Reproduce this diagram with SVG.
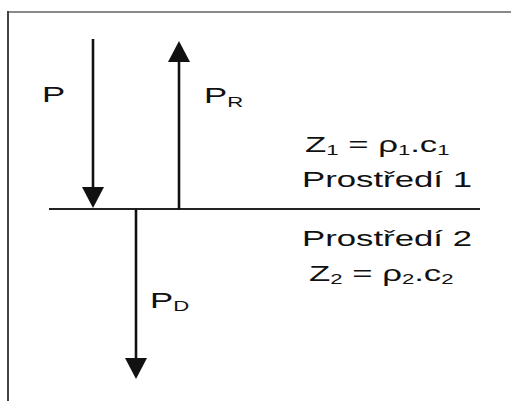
<svg xmlns="http://www.w3.org/2000/svg" width="511" height="401" viewBox="0 0 511 401">
  <style>
    .lbl { font-family: "Liberation Sans", Arial, sans-serif; font-size: 22px; fill: #111; }
    .sub { font-size: 14px; }
    .arrow { stroke: #111; stroke-width: 2.6; fill: none; marker-end: url(#head); }
    .iface { stroke: #222; stroke-width: 2.2; }
  </style>
  <defs>
    <marker id="head" viewBox="0 0 21 22" refX="11" refY="11" markerWidth="21" markerHeight="22" markerUnits="userSpaceOnUse" orient="auto">
      <path d="M0,0 L21,11 L0,22 Z" fill="#111"/>
    </marker>
  </defs>
  <rect width="511" height="401" fill="#fff"/>
  <g id="frame">
    <line x1="8" y1="12" x2="511" y2="12" stroke="#8a8a8a" stroke-width="2"/>
    <line x1="8" y1="11" x2="8" y2="401" stroke="#444" stroke-width="2"/>
  </g>
  <g id="connectors">
    <line class="iface" x1="49" y1="209" x2="480" y2="209"/>
    <line class="arrow" x1="93" y1="39" x2="93" y2="198"/>
    <line class="arrow" x1="179" y1="209" x2="179" y2="51"/>
    <line class="arrow" x1="136" y1="209" x2="136" y2="369"/>
  </g>
  <g id="label-P">
    <text class="lbl" transform="translate(42,102) scale(1.58,1)">P</text>
  </g>
  <g id="label-PR">
    <text class="lbl" transform="translate(204,103) scale(1.58,1)">P<tspan class="sub" dy="4">R</tspan></text>
  </g>
  <g id="label-PD">
    <text class="lbl" transform="translate(150,308) scale(1.58,1)">P<tspan class="sub" dy="3">D</tspan></text>
  </g>
  <g id="medium-1">
    <text class="lbl" transform="translate(305,152) scale(1.58,1)">Z<tspan class="sub" dy="3">1</tspan><tspan dy="-3"> = ρ</tspan><tspan class="sub" dy="3">1</tspan><tspan dy="-3">.c</tspan><tspan class="sub" dy="3">1</tspan></text>
    <text class="lbl" transform="translate(302,187) scale(1.58,1)">Prostředí 1</text>
  </g>
  <g id="medium-2">
    <text class="lbl" transform="translate(302,246) scale(1.58,1)">Prostředí 2</text>
    <text class="lbl" transform="translate(309,281) scale(1.58,1)">Z<tspan class="sub" dy="3">2</tspan><tspan dy="-3"> = ρ</tspan><tspan class="sub" dy="3">2</tspan><tspan dy="-3">.c</tspan><tspan class="sub" dy="3">2</tspan></text>
  </g>
</svg>
